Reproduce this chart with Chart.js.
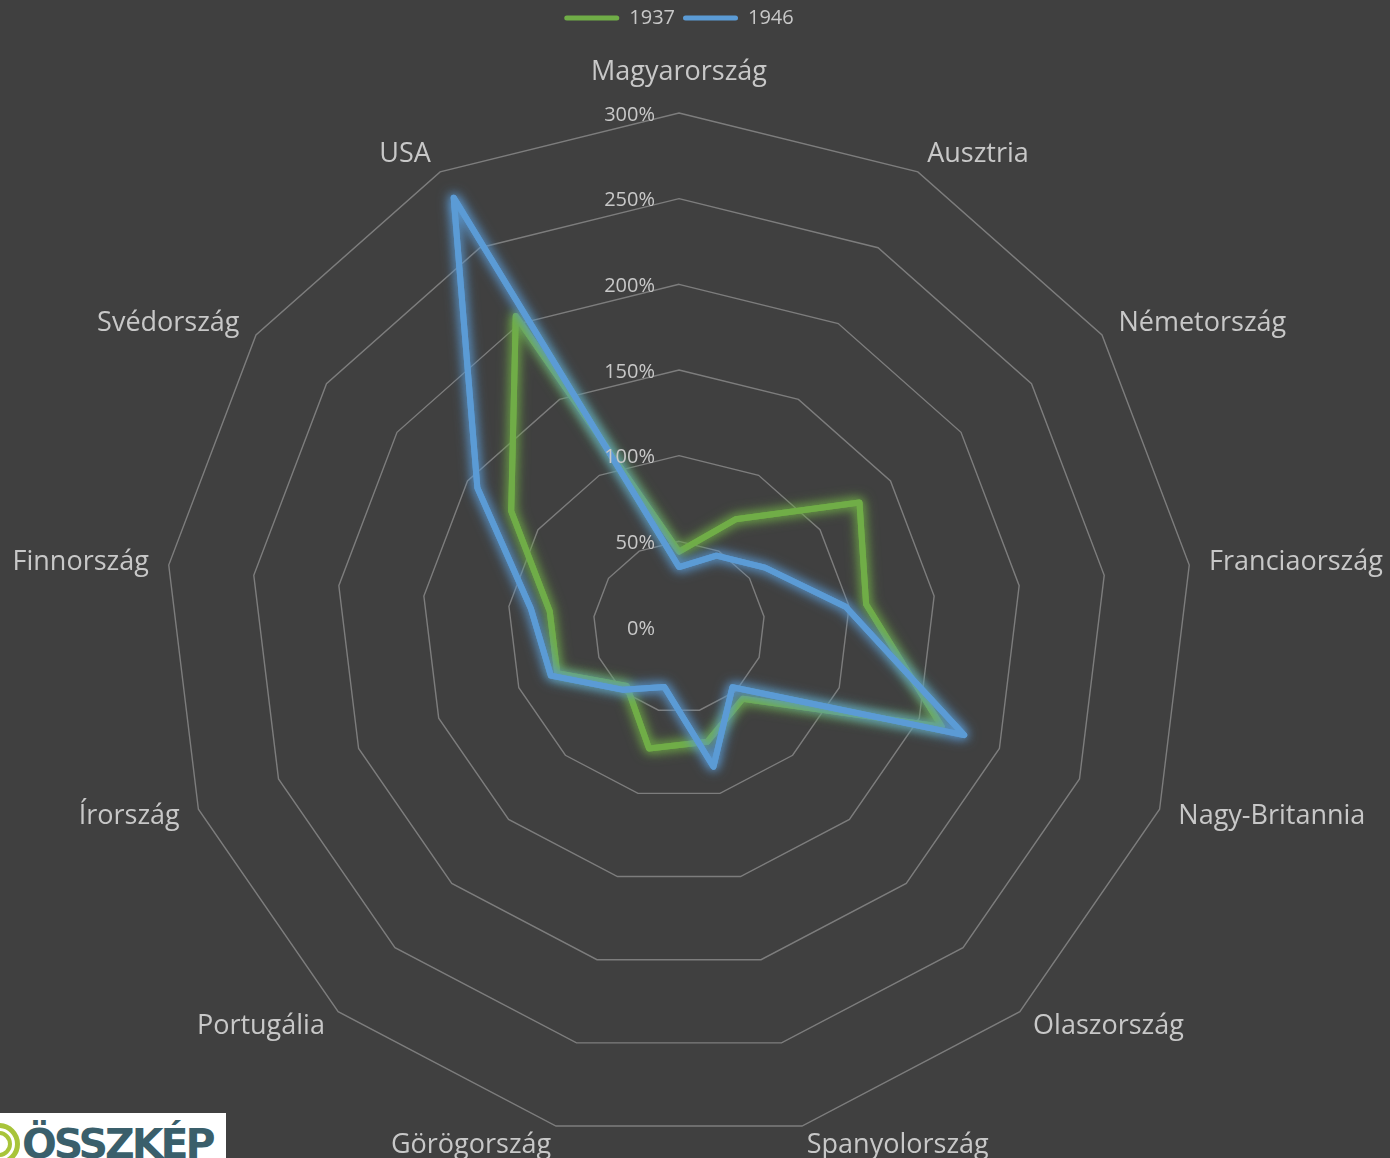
<!DOCTYPE html>
<html lang="hu">
<head>
<meta charset="utf-8">
<title>1937 / 1946</title>
<script src="https://cdn.jsdelivr.net/npm/chart.js@4/dist/chart.umd.min.js"></script>
<style>
  body { margin: 0; background: #404040; }
  #wrap { position: relative; width: 1390px; height: 1158px; }
  #logo {
    position: absolute; left: 0; top: 1113px; width: 226px; height: 45px;
    background: #fff; overflow: hidden;
  }
  #logo .ring {
    position: absolute; left: -22px; top: 10px; width: 42px; height: 42px;
    border-radius: 50%; border: 5px solid #a8c43a; box-sizing: border-box;
  }
  #logo .ring2 {
    position: absolute; left: -14px; top: 18px; width: 26px; height: 26px;
    border-radius: 50%; border: 4px solid #a8c43a; box-sizing: border-box;
  }
  #logo span.txt {
    position: absolute; left: 22px; top: 11px;
    font: bold 41px "DejaVu Sans", sans-serif; letter-spacing: -3px;
    color: #3a5f6b; line-height: 1;
  }
</style>
</head>
<body>
<div id="wrap">
  <canvas id="radar"></canvas>
  <div id="logo"><div class="ring"></div><div class="ring2"></div><span class="txt">ÖSSZKÉP</span></div>
</div>
<script>
const categories = ['Magyarország', 'Ausztria', 'Németország', 'Franciaország', 'Nagy-Britannia',
  'Olaszország', 'Spanyolország', 'Görögország', 'Portugália', 'Írország', 'Finnország',
  'Svédország', 'USA'];

const seriesNames = ['1937', '1946'];
const values1937 = [44, 71, 128, 110, 164, 56, 69, 73, 46, 76, 76, 119, 205];
const values1946 = [35, 47, 61, 98, 178, 47, 84, 36, 49, 80, 87, 143, 283];

const axisMax = 300;
const tickStep = 50;

const green = '#70ad47';
const blue = '#5b9bd5';
const textColor = '#c8c8c8';
const gridColor = '#7d7d7d';

Chart.defaults.font.family = "'Open Sans', sans-serif";

// glow round the lines: one extra blurred pass under the normal one
const glow = {
  id: 'glow',
  beforeDatasetDraw(chart, args) {
    const ctx = chart.ctx;
    const line = args.meta.dataset;
    ctx.save();
    ctx.shadowColor = line.options.borderColor;
    ctx.shadowBlur = 14;
    line.draw(ctx, chart.chartArea);
    ctx.restore();
    ctx.save();
    ctx.shadowColor = line.options.borderColor;
    ctx.shadowBlur = 10;
  },
  afterDatasetDraw(chart) {
    chart.ctx.restore();
  }
};

// tick labels left of the vertical axis, category names outside the rings
const labels = {
  id: 'labels',
  afterDraw(chart) {
    const r = chart.scales.r;
    const ctx = chart.ctx;
    ctx.save();
    ctx.fillStyle = textColor;

    ctx.font = '20px "Open Sans"';
    ctx.textAlign = 'right';
    ctx.textBaseline = 'middle';
    r.ticks.forEach(t => {
      const d = r.getDistanceFromCenterForValue(t.value);
      ctx.fillText(t.label, r.xCenter - 24, r.yCenter - d + 2);
    });

    ctx.font = '27px "Open Sans"';
    categories.forEach((name, i) => {
      const s = Math.sin(r.getIndexAngle(i));
      const top = Math.abs(s) < 0.01;
      const p = r.getPointPosition(i, r.drawingArea + (top ? 41 : 20));
      ctx.textAlign = top ? 'center' : (s > 0 ? 'left' : 'right');
      ctx.fillText(name, p.x, p.y);
    });
    ctx.restore();
  }
};

// keep the legend on top and push the plot down below it
const legendSpace = {
  id: 'legendSpace',
  beforeInit(chart) {
    const fit = chart.legend.fit;
    chart.legend.fit = function () {
      fit.call(this);
      this.height = 113;
    };
  }
};

const data = {
  labels: categories,
  datasets: [
    {
      label: seriesNames[0],
      data: values1937,
      borderColor: green,
      backgroundColor: 'transparent',
      borderWidth: 6,
      borderJoinStyle: 'round',
      pointRadius: 0,
      order: 1
    },
    {
      label: seriesNames[1],
      data: values1946,
      borderColor: blue,
      backgroundColor: 'transparent',
      borderWidth: 6,
      borderJoinStyle: 'round',
      pointRadius: 0,
      order: 0
    }
  ]
};

const config = {
  type: 'radar',
  data: data,
  options: {
    responsive: true,
    maintainAspectRatio: false,
    animation: false,
    layout: { padding: { left: 165, right: 197, top: 0, bottom: 17 } },
    plugins: {
      tooltip: { enabled: false },
      legend: {
        position: 'top',
        labels: {
          color: textColor,
          font: { size: 20 },
          boxWidth: 55,
          boxHeight: 5,
          padding: 8,
          useBorderRadius: true,
          borderRadius: 2.5,
          generateLabels(chart) {
            return chart.data.datasets.map((ds, i) => ({
              text: ds.label,
              fillStyle: ds.borderColor,
              strokeStyle: ds.borderColor,
              lineWidth: 0,
              borderRadius: 2.5,
              fontColor: textColor,
              datasetIndex: i
            }));
          }
        }
      }
    },
    scales: {
      r: {
        min: 0,
        max: axisMax,
        angleLines: { display: false },
        grid: { color: gridColor, lineWidth: 1.4 },
        pointLabels: { display: false },
        ticks: {
          display: false,
          stepSize: tickStep,
          callback: v => v + '%'
        }
      }
    }
  },
  plugins: [glow, labels, legendSpace]
};

window.addEventListener('DOMContentLoaded', () => {
  const ctx = document.getElementById('radar').getContext('2d');
  new Chart(ctx, config);
});
</script>
</body>
</html>
